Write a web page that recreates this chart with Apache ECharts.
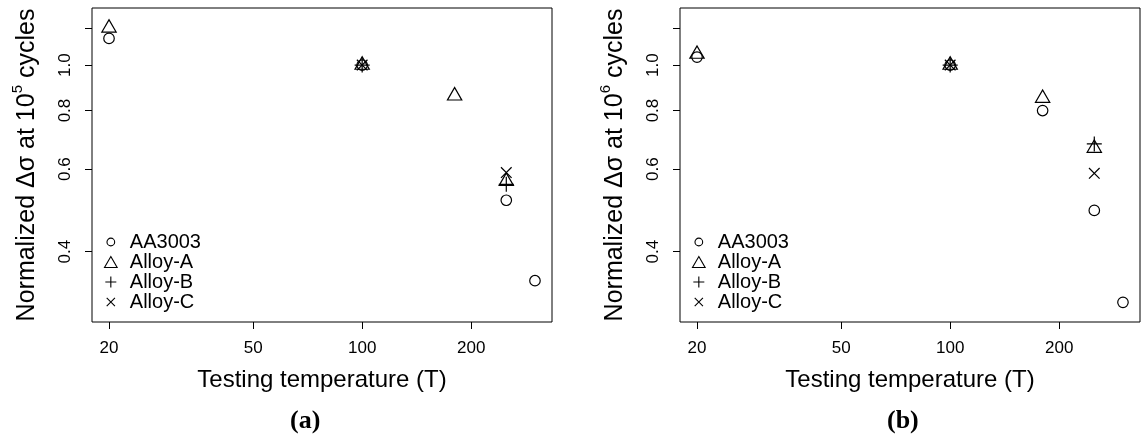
<!DOCTYPE html>
<html>
<head>
<meta charset="utf-8">
<script src="https://cdn.jsdelivr.net/npm/echarts@6/dist/echarts.min.js"></script>
<style>html,body{margin:0;padding:0;background:#fff;}#c{width:1141px;height:440px;}</style>
</head>
<body>
<div id="c"></div>
<script>
// ---- data ----
const temps = [20, 100, 180, 250, 300];
const xTicks = [20, 50, 100, 200];
const yTicks = [0.4, 0.6, 0.8, 1.0, 1.2];
const yLabels = [0.4, 0.6, 0.8, 1.0];
const seriesNames = ['AA3003', 'Alloy-A', 'Alloy-B', 'Alloy-C'];
const panelLabels = ['(a)', '(b)'];
const cycleExp = ['5', '6'];

// panel (a): normalized stress range at 10^5 cycles
const aa3003_a = [1.14, 1.0, null, 0.515, 0.347];
const alloyA_a = [1.20, 1.0, 0.86, 0.565, null];
const alloyB_a = [null, 1.0, null, 0.557, null];
const alloyC_a = [null, 1.0, null, 0.590, null];

// panel (b): normalized stress range at 10^6 cycles
const aa3003_b = [1.04, 1.0, 0.80, 0.490, 0.312];
const alloyA_b = [1.055, 1.0, 0.85, 0.665, null];
const alloyB_b = [null, 1.0, null, 0.679, null];
const alloyC_b = [null, 1.0, null, 0.588, null];

const panels = [
  [aa3003_a, alloyA_a, alloyB_a, alloyC_a],
  [aa3003_b, alloyA_b, alloyB_b, alloyC_b]
];

// ---- styles ----
const FONT = "'Liberation Sans', Arial, Helvetica, sans-serif";
const symbolSpec = {
  'AA3003': { symbol: 'circle', size: 10.5, offset: [0, 0],
    legendIcon: 'path://M0,0M11,11M5.5,1.65A3.85,3.85,0,1,1,5.5,9.35A3.85,3.85,0,1,1,5.5,1.65Z' },
  'Alloy-A': { symbol: 'triangle', size: [14.3, 12.4], offset: [0, -2.06],
    legendIcon: 'path://M5.75,0L11.5,10L0,10Z' },
  'Alloy-B': { symbol: 'path://M0,5L10,5M5,0L5,10', size: 15, offset: [0, 0],
    legendIcon: 'path://M0,6L12,6M6,0L6,12' },
  'Alloy-C': { symbol: 'path://M0,0L10,10M0,10L10,0', size: 10.6, offset: [0, 0],
    legendIcon: 'path://M0,0M12,12M1.5,1.5L10.5,10.5M1.5,10.5L10.5,1.5' }
};

function pairs(vals) {
  const out = [];
  temps.forEach((t, i) => { if (vals[i] != null) out.push([t, vals[i]]); });
  return out;
}

const grids = [], xAxes = [], yAxes = [], series = [], legends = [], titles = [];
const gridLefts = [92, 680];
const titleLefts = [290, 887];

for (let p = 0; p < 2; p++) {
  grids.push({ left: gridLefts[p], top: 8, width: 460, height: 314, show: true, borderColor: '#000', borderWidth: 1, containLabel: false });
  xAxes.push({
    type: 'log', logBase: 10, gridIndex: p, min: 17.95, max: 334.3,
    axisLine: { show: false }, splitLine: { show: false },
    axisTick: { show: true, length: 7, lineStyle: { color: '#000', width: 1 }, customValues: xTicks },
    axisLabel: { customValues: xTicks, fontSize: 17, color: '#000', fontFamily: FONT, margin: 18,
      formatter: v => String(Math.round(v)) },
    name: 'Testing temperature (T)', nameLocation: 'middle', nameGap: 46,
    nameTextStyle: { fontSize: 24, color: '#000', fontFamily: FONT }
  });
  yAxes.push({
    type: 'log', logBase: 10, gridIndex: p, min: 0.2833, max: 1.3234,
    axisLine: { show: false }, splitLine: { show: false },
    axisTick: { show: true, length: 7, lineStyle: { color: '#000', width: 1 }, customValues: yTicks },
    axisLabel: { customValues: yLabels, fontSize: 17, color: '#000', fontFamily: FONT, margin: 18, rotate: 90,
      formatter: v => Number(v).toFixed(1) },
    name: 'Normalized \u0394\u03c3 at 10{sup|' + cycleExp[p] + '} cycles',
    nameLocation: 'middle', nameRotate: 90, nameGap: 48,
    nameTextStyle: { fontSize: 25, color: '#000', fontFamily: FONT, lineHeight: 34,
      rich: { sup: { fontSize: 15, lineHeight: 6, verticalAlign: 'top', color: '#000', fontFamily: FONT } } }
  });
  seriesNames.forEach((nm, k) => {
    const s = symbolSpec[nm];
    series.push({
      type: 'scatter', name: nm, xAxisIndex: p, yAxisIndex: p,
      data: pairs(panels[p][k]),
      symbol: s.symbol, symbolSize: s.size, symbolOffset: s.offset,
      itemStyle: { color: 'none', borderColor: '#000', borderWidth: 1.2, opacity: 1 },
      emphasis: { disabled: true }, silent: true
    });
  });
  legends.push({
    orient: 'vertical', left: 102 + (gridLefts[p] - 92), top: 232, padding: 0, itemGap: 0,
    itemWidth: 28, itemHeight: 11, selectedMode: false,
    textStyle: { fontSize: 20, color: '#000', fontFamily: FONT },
    itemStyle: { color: 'none', borderColor: '#000', borderWidth: 1.1 },
    data: seriesNames.map(nm => ({ name: nm, icon: symbolSpec[nm].legendIcon }))
  });
  titles.push({
    text: panelLabels[p], left: titleLefts[p], top: 408, padding: 0,
    textStyle: { fontFamily: "'Liberation Serif', 'Times New Roman', serif", fontWeight: 'bold', fontSize: 26, color: '#000' }
  });
}

const chart = echarts.init(document.getElementById('c'), null, { renderer: 'canvas' });
chart.setOption({
  animation: false,
  backgroundColor: '#fff',
  title: titles,
  grid: grids,
  xAxis: xAxes,
  yAxis: yAxes,
  legend: legends,
  series: series
});
</script>
</body>
</html>
